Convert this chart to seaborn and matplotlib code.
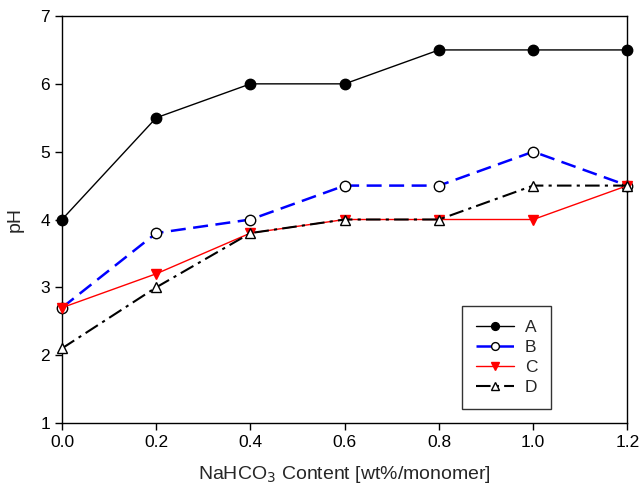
import matplotlib
matplotlib.use("Agg")
import matplotlib.pyplot as plt
import seaborn as sns
import pandas as pd

sns.set_style("ticks")
plt.rcParams['font.family'] = ['Liberation Sans', 'DejaVu Sans']

x = [0.0, 0.2, 0.4, 0.6, 0.8, 1.0, 1.2]
A = [4.0, 5.5, 6.0, 6.0, 6.5, 6.5, 6.5]
B = [2.7, 3.8, 4.0, 4.5, 4.5, 5.0, 4.5]
C = [2.7, 3.2, 3.8, 4.0, 4.0, 4.0, 4.5]
D = [2.1, 3.0, 3.8, 4.0, 4.0, 4.5, 4.5]

fig = plt.figure(figsize=(6.39, 4.93), dpi=100)
ax = fig.add_axes([0.097, 0.142, 0.885, 0.8255])

styles = {
    "A": dict(color="black", lw=1.0, ls="-", marker="o", mfc="black", mec="black", ms=7.5),
    "B": dict(color="#0000ff", lw=1.8, ls=(0, (6, 3)), marker="o", mfc="white", mec="black", ms=7.5),
    "C": dict(color="#ff0000", lw=1.0, ls="-", marker="v", mfc="#ff0000", mec="#ff0000", ms=7.5),
    "D": dict(color="black", lw=1.5, ls=(0, (7, 2.5, 1.5, 2.5)), marker="^", mfc="white", mec="black", ms=7.5),
}
series = {"A": A, "B": B, "C": C, "D": D}

for name, vals in series.items():
    st = styles[name]
    sns.lineplot(x=x, y=vals, ax=ax, color=st["color"], linewidth=st["lw"],
                 linestyle=st["ls"], marker=st["marker"], markersize=st["ms"],
                 markerfacecolor=st["mfc"], markeredgecolor=st["mec"],
                 markeredgewidth=1.0, label=name, clip_on=False, zorder=3)

ax.set_xlim(0, 1.2)
ax.set_ylim(1, 7)
ax.set_xticks(x)
ax.set_xticklabels([f"{v:.1f}" for v in x])
ax.set_yticks([1, 2, 3, 4, 5, 6, 7])
ax.tick_params(direction="out", length=5, width=1, labelsize=12.5, colors="black")
for s in ax.spines.values():
    s.set_visible(True)
    s.set_linewidth(1.0)
    s.set_color("black")

ax.set_xlabel(r"NaHCO$_3$ Content [wt%/monomer]", fontsize=14, labelpad=10)
ax.set_ylabel("pH", fontsize=14, labelpad=12)

leg = ax.legend(loc="upper left", bbox_to_anchor=(0.708, 0.2875), frameon=True,
                fancybox=False, edgecolor="black", fontsize=12.5, handlelength=2.2,
                borderpad=0.8, labelspacing=0.28, handletextpad=0.6, markerscale=0.75,
                borderaxespad=0)
leg.get_frame().set_linewidth(1.0)

fig.savefig("out.png", dpi=100)
